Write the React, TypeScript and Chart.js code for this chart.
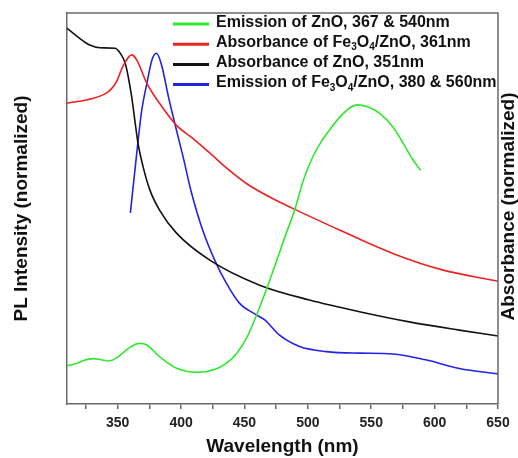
import React, { useEffect, useRef } from "react";
import { Chart, registerables } from "chart.js";

Chart.register(...registerables);

// ---- Data ----
const xMin = 310;
const xMax = 650;
const xTickValues = [325, 350, 375, 400, 425, 450, 475, 500, 525, 550, 575, 600, 625, 650];
const xTickLabels = [350, 400, 450, 500, 550, 600, 650];

const xTitle = "Wavelength (nm)";
const yLeftTitle = "PL Intensity (normalized)";
const yRightTitle = "Absorbance (normalized)";

// Emission of ZnO (green)
const znoEmWl = [310, 318, 322, 331, 337, 343, 350, 358, 367, 373, 383, 396, 413, 428, 436, 444, 452, 459, 470, 483, 490, 496, 504, 510, 517, 525, 533, 539, 547, 556.5, 567, 575, 583, 589];
const znoEmVal = [9.8, 10.4, 11.0, 11.6, 11.3, 11.0, 12.0, 14.1, 15.5, 15.1, 12.1, 9.2, 8.1, 9.0, 10.5, 13.0, 17.1, 22.3, 31.7, 43.7, 50.0, 56.8, 63.3, 66.8, 70.0, 73.3, 75.7, 76.5, 76.0, 74.4, 70.9, 66.8, 62.4, 59.8];

// Absorbance of Fe3O4/ZnO (red)
const feAbsWl = [310, 331, 341, 345, 349, 354, 361, 365, 373, 383, 396, 409, 423, 436, 451.5, 476, 493.5, 527.6, 567, 606, 650];
const feAbsVal = [76.9, 78.2, 79.5, 80.6, 82.4, 86.3, 89.3, 88.0, 82.0, 76.9, 71.4, 68.0, 64.1, 60.3, 56.4, 51.9, 49.2, 44.1, 38.5, 34.3, 31.4];

// Absorbance of ZnO (black)
const znoAbsWl = [310, 320, 328, 336, 348, 352, 356, 358.3, 361, 363.5, 366, 370, 375.4, 383, 396.4, 422.6, 462, 501.3, 540.7, 580, 619.4, 650];
const znoAbsVal = [96.1, 93.5, 91.8, 91.1, 91.0, 89.7, 87.1, 83.7, 78.6, 72.6, 66.7, 60.7, 54.7, 49.6, 43.7, 36.8, 30.4, 26.6, 23.6, 21.0, 18.9, 17.4];

// Emission of Fe3O4/ZnO (blue)
const feEmWl = [360, 365, 369, 373, 377, 380.6, 384.6, 390, 395, 401.6, 408, 417, 426.5, 435.7, 446, 459.4, 466, 477.7, 493.5, 514.5, 540.7, 567, 593, 619.4, 650];
const feEmVal = [48.9, 64.1, 75.2, 82.0, 88.0, 89.7, 86.7, 78.6, 71.8, 63.2, 54.3, 44.5, 36.8, 30.9, 25.8, 22.8, 21.5, 17.6, 14.7, 13.4, 13.0, 12.8, 11.3, 9.1, 7.7];

const seriesLabels = [
  "Emission of ZnO, 367 & 540nm",
  "Absorbance of Fe3O4/ZnO, 361nm",
  "Absorbance of ZnO, 351nm",
  "Emission of Fe3O4/ZnO, 380 & 560nm",
];
// legend text split into normal / subscript pieces
const legendSegments: { t: string; sub?: boolean }[][] = [
  [{ t: "Emission of ZnO, 367 & 540nm" }],
  [{ t: "Absorbance of Fe" }, { t: "3", sub: true }, { t: "O" }, { t: "4", sub: true }, { t: "/ZnO, 361nm" }],
  [{ t: "Absorbance of ZnO, 351nm" }],
  [{ t: "Emission of Fe" }, { t: "3", sub: true }, { t: "O" }, { t: "4", sub: true }, { t: "/ZnO, 380 & 560nm" }],
];
const seriesColors = ["#2fe82f", "#ec2222", "#111111", "#2323e6"];

const FONT = '"Liberation Sans", Arial, Helvetica, sans-serif';
const frameColor = "#6a6a6a";

const toPoints = (xs: number[], ys: number[]) => xs.map((x, i) => ({ x, y: ys[i] }));

const framePlugin = {
  id: "frameAndLegend",
  afterDraw(chart: any) {
    const { ctx, chartArea } = chart;
    const { left, right, top, bottom } = chartArea;
    ctx.save();
    // top & right frame
    ctx.strokeStyle = frameColor;
    ctx.lineWidth = 1.5;
    ctx.beginPath();
    ctx.moveTo(left, top);
    ctx.lineTo(right, top);
    ctx.lineTo(right, bottom);
    ctx.stroke();

    // right axis title (rotated like the left one)
    ctx.fillStyle = "#111";
    ctx.font = `bold 19px ${FONT}`;
    ctx.textAlign = "center";
    ctx.textBaseline = "middle";
    ctx.save();
    ctx.translate(right + 11, (top + bottom) / 2 - 2);
    ctx.rotate(-Math.PI / 2);
    ctx.fillText(yRightTitle, 0, 0);
    ctx.restore();

    // legend
    const lx0 = left + 106;
    const lx1 = left + 142;
    const tx = left + 149;
    ctx.textAlign = "left";
    ctx.textBaseline = "alphabetic";
    legendSegments.forEach((segs, i) => {
      const yb = top + 13.5 + i * 20.2;
      ctx.strokeStyle = seriesColors[i];
      ctx.lineWidth = 3;
      ctx.beginPath();
      ctx.moveTo(lx0, yb - 2.5);
      ctx.lineTo(lx1, yb - 2.5);
      ctx.stroke();
      let x = tx;
      ctx.fillStyle = "#111";
      segs.forEach((s) => {
        ctx.font = s.sub ? `bold 10px ${FONT}` : `bold 16px ${FONT}`;
        ctx.fillText(s.t, x, s.sub ? yb + 3.5 : yb);
        x += ctx.measureText(s.t).width;
      });
    });
    ctx.restore();
  },
};

export default function App() {
  const canvasRef = useRef<HTMLCanvasElement | null>(null);

  useEffect(() => {
    if (!canvasRef.current) return;
    const series = [
      { wl: znoEmWl, val: znoEmVal },
      { wl: feAbsWl, val: feAbsVal },
      { wl: znoAbsWl, val: znoAbsVal },
      { wl: feEmWl, val: feEmVal },
    ];
    const chart = new Chart(canvasRef.current, {
      type: "line",
      data: {
        datasets: series.map((s, i) => ({
          label: seriesLabels[i],
          data: toPoints(s.wl, s.val),
          borderColor: seriesColors[i],
          backgroundColor: seriesColors[i],
          borderWidth: 1.6,
          pointRadius: 0,
          fill: false,
          cubicInterpolationMode: "monotone" as const,
        })),
      },
      options: {
        animation: false,
        responsive: false,
        devicePixelRatio: 1,
        layout: { padding: { top: 13, right: 20, left: 0, bottom: 0 } },
        plugins: { legend: { display: false }, tooltip: { enabled: false } },
        scales: {
          x: {
            type: "linear",
            min: xMin,
            max: xMax,
            afterBuildTicks: (s: any) => {
              s.ticks = xTickValues.map((v) => ({ value: v }));
            },
            afterFit: (s: any) => {
              s.height = 54;
            },
            grid: {
              display: true,
              drawOnChartArea: false,
              drawTicks: true,
              tickLength: 5,
              color: frameColor,
              lineWidth: 1.5,
            },
            border: { display: true, color: frameColor, width: 1.5 },
            ticks: {
              autoSkip: false,
              maxRotation: 0,
              padding: 6,
              color: "#222",
              font: { family: FONT, size: 14, weight: "bold" },
              callback: (v: any) => (xTickLabels.includes(Number(v)) ? String(v) : ""),
            },
            title: {
              display: true,
              text: xTitle,
              color: "#111",
              font: { family: FONT, size: 19, weight: "bold" },
              padding: { top: 0, bottom: 0 },
            },
          },
          y: {
            min: 0,
            max: 100,
            ticks: { display: false },
            grid: { display: false },
            border: { display: true, color: frameColor, width: 1.5 },
            afterFit: (s: any) => {
              s.width = 67;
            },
            title: {
              display: true,
              text: yLeftTitle,
              color: "#111",
              font: { family: FONT, size: 19, weight: "bold" },
              padding: { top: 10, bottom: 0 },
            },
          },
        },
      },
      plugins: [framePlugin],
    });
    return () => chart.destroy();
  }, []);

  return (
    <div style={{ position: "fixed", left: 0, top: 0, width: 518, height: 458, background: "#fff" }}>
      <canvas ref={canvasRef} width={518} height={458} />
    </div>
  );
}
